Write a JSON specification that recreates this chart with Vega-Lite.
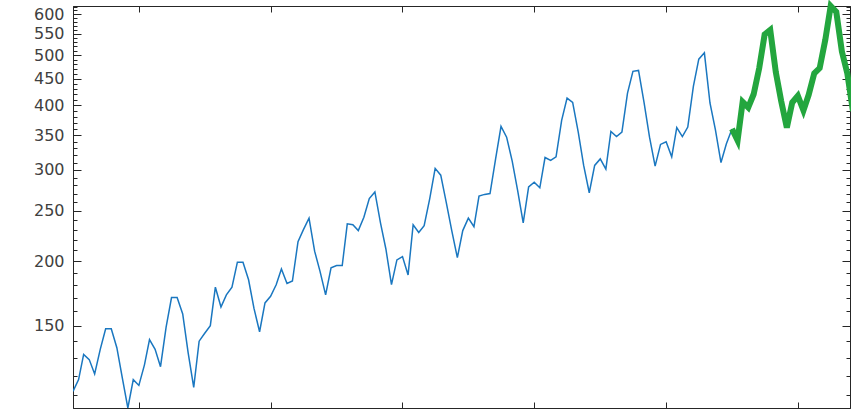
{
  "$schema": "https://vega.github.io/schema/vega-lite/v6.json",
  "width": 777,
  "height": 402,
  "autosize": {"type": "none"},
  "padding": {"left": 73, "top": 6, "right": 1, "bottom": 3},
  "background": "white",
  "config": {
    "view": {"stroke": "#262626", "strokeWidth": 1},
    "axis": {"domainColor": "#262626", "tickColor": "#262626", "grid": false, "labelFont": "DejaVu Sans", "labelFontSize": 16, "labelColor": "#404040", "title": null}
  },
  "data": {"values": [
    {"date":"1949-01-01","v":112,"s":"train"},{"date":"1949-02-01","v":118,"s":"train"},{"date":"1949-03-01","v":132,"s":"train"},{"date":"1949-04-01","v":129,"s":"train"},{"date":"1949-05-01","v":121,"s":"train"},{"date":"1949-06-01","v":135,"s":"train"},{"date":"1949-07-01","v":148,"s":"train"},{"date":"1949-08-01","v":148,"s":"train"},{"date":"1949-09-01","v":136,"s":"train"},{"date":"1949-10-01","v":119,"s":"train"},{"date":"1949-11-01","v":104,"s":"train"},{"date":"1949-12-01","v":118,"s":"train"},
    {"date":"1950-01-01","v":115,"s":"train"},{"date":"1950-02-01","v":126,"s":"train"},{"date":"1950-03-01","v":141,"s":"train"},{"date":"1950-04-01","v":135,"s":"train"},{"date":"1950-05-01","v":125,"s":"train"},{"date":"1950-06-01","v":149,"s":"train"},{"date":"1950-07-01","v":170,"s":"train"},{"date":"1950-08-01","v":170,"s":"train"},{"date":"1950-09-01","v":158,"s":"train"},{"date":"1950-10-01","v":133,"s":"train"},{"date":"1950-11-01","v":114,"s":"train"},{"date":"1950-12-01","v":140,"s":"train"},
    {"date":"1951-01-01","v":145,"s":"train"},{"date":"1951-02-01","v":150,"s":"train"},{"date":"1951-03-01","v":178,"s":"train"},{"date":"1951-04-01","v":163,"s":"train"},{"date":"1951-05-01","v":172,"s":"train"},{"date":"1951-06-01","v":178,"s":"train"},{"date":"1951-07-01","v":199,"s":"train"},{"date":"1951-08-01","v":199,"s":"train"},{"date":"1951-09-01","v":184,"s":"train"},{"date":"1951-10-01","v":162,"s":"train"},{"date":"1951-11-01","v":146,"s":"train"},{"date":"1951-12-01","v":166,"s":"train"},
    {"date":"1952-01-01","v":171,"s":"train"},{"date":"1952-02-01","v":180,"s":"train"},{"date":"1952-03-01","v":193,"s":"train"},{"date":"1952-04-01","v":181,"s":"train"},{"date":"1952-05-01","v":183,"s":"train"},{"date":"1952-06-01","v":218,"s":"train"},{"date":"1952-07-01","v":230,"s":"train"},{"date":"1952-08-01","v":242,"s":"train"},{"date":"1952-09-01","v":209,"s":"train"},{"date":"1952-10-01","v":191,"s":"train"},{"date":"1952-11-01","v":172,"s":"train"},{"date":"1952-12-01","v":194,"s":"train"},
    {"date":"1953-01-01","v":196,"s":"train"},{"date":"1953-02-01","v":196,"s":"train"},{"date":"1953-03-01","v":236,"s":"train"},{"date":"1953-04-01","v":235,"s":"train"},{"date":"1953-05-01","v":229,"s":"train"},{"date":"1953-06-01","v":243,"s":"train"},{"date":"1953-07-01","v":264,"s":"train"},{"date":"1953-08-01","v":272,"s":"train"},{"date":"1953-09-01","v":237,"s":"train"},{"date":"1953-10-01","v":211,"s":"train"},{"date":"1953-11-01","v":180,"s":"train"},{"date":"1953-12-01","v":201,"s":"train"},
    {"date":"1954-01-01","v":204,"s":"train"},{"date":"1954-02-01","v":188,"s":"train"},{"date":"1954-03-01","v":235,"s":"train"},{"date":"1954-04-01","v":227,"s":"train"},{"date":"1954-05-01","v":234,"s":"train"},{"date":"1954-06-01","v":264,"s":"train"},{"date":"1954-07-01","v":302,"s":"train"},{"date":"1954-08-01","v":293,"s":"train"},{"date":"1954-09-01","v":259,"s":"train"},{"date":"1954-10-01","v":229,"s":"train"},{"date":"1954-11-01","v":203,"s":"train"},{"date":"1954-12-01","v":229,"s":"train"},
    {"date":"1955-01-01","v":242,"s":"train"},{"date":"1955-02-01","v":233,"s":"train"},{"date":"1955-03-01","v":267,"s":"train"},{"date":"1955-04-01","v":269,"s":"train"},{"date":"1955-05-01","v":270,"s":"train"},{"date":"1955-06-01","v":315,"s":"train"},{"date":"1955-07-01","v":364,"s":"train"},{"date":"1955-08-01","v":347,"s":"train"},{"date":"1955-09-01","v":312,"s":"train"},{"date":"1955-10-01","v":274,"s":"train"},{"date":"1955-11-01","v":237,"s":"train"},{"date":"1955-12-01","v":278,"s":"train"},
    {"date":"1956-01-01","v":284,"s":"train"},{"date":"1956-02-01","v":277,"s":"train"},{"date":"1956-03-01","v":317,"s":"train"},{"date":"1956-04-01","v":313,"s":"train"},{"date":"1956-05-01","v":318,"s":"train"},{"date":"1956-06-01","v":374,"s":"train"},{"date":"1956-07-01","v":413,"s":"train"},{"date":"1956-08-01","v":405,"s":"train"},{"date":"1956-09-01","v":355,"s":"train"},{"date":"1956-10-01","v":306,"s":"train"},{"date":"1956-11-01","v":271,"s":"train"},{"date":"1956-12-01","v":306,"s":"train"},
    {"date":"1957-01-01","v":315,"s":"train"},{"date":"1957-02-01","v":301,"s":"train"},{"date":"1957-03-01","v":356,"s":"train"},{"date":"1957-04-01","v":348,"s":"train"},{"date":"1957-05-01","v":355,"s":"train"},{"date":"1957-06-01","v":422,"s":"train"},{"date":"1957-07-01","v":465,"s":"train"},{"date":"1957-08-01","v":467,"s":"train"},{"date":"1957-09-01","v":404,"s":"train"},{"date":"1957-10-01","v":347,"s":"train"},{"date":"1957-11-01","v":305,"s":"train"},{"date":"1957-12-01","v":336,"s":"train"},
    {"date":"1958-01-01","v":340,"s":"train"},{"date":"1958-02-01","v":318,"s":"train"},{"date":"1958-03-01","v":362,"s":"train"},{"date":"1958-04-01","v":348,"s":"train"},{"date":"1958-05-01","v":363,"s":"train"},{"date":"1958-06-01","v":435,"s":"train"},{"date":"1958-07-01","v":491,"s":"train"},{"date":"1958-08-01","v":505,"s":"train"},{"date":"1958-09-01","v":404,"s":"train"},{"date":"1958-10-01","v":359,"s":"train"},{"date":"1958-11-01","v":310,"s":"train"},{"date":"1958-12-01","v":337,"s":"train"},
    {"date":"1959-01-01","v":360,"s":"train"},
    {"date":"1959-01-01","v":360,"s":"test"},{"date":"1959-02-01","v":342,"s":"test"},{"date":"1959-03-01","v":406,"s":"test"},{"date":"1959-04-01","v":396,"s":"test"},{"date":"1959-05-01","v":420,"s":"test"},{"date":"1959-06-01","v":472,"s":"test"},{"date":"1959-07-01","v":548,"s":"test"},{"date":"1959-08-01","v":559,"s":"test"},{"date":"1959-09-01","v":463,"s":"test"},{"date":"1959-10-01","v":407,"s":"test"},{"date":"1959-11-01","v":362,"s":"test"},{"date":"1959-12-01","v":405,"s":"test"},
    {"date":"1960-01-01","v":417,"s":"test"},{"date":"1960-02-01","v":391,"s":"test"},{"date":"1960-03-01","v":419,"s":"test"},{"date":"1960-04-01","v":461,"s":"test"},{"date":"1960-05-01","v":472,"s":"test"},{"date":"1960-06-01","v":535,"s":"test"},{"date":"1960-07-01","v":622,"s":"test"},{"date":"1960-08-01","v":606,"s":"test"},{"date":"1960-09-01","v":508,"s":"test"},{"date":"1960-10-01","v":461,"s":"test"},{"date":"1960-11-01","v":390,"s":"test"},{"date":"1960-12-01","v":432,"s":"test"}
  ]},
  "layer": [
    {
      "transform": [{"filter": "datum.s === 'train'"}],
      "mark": {"type": "line", "color": "#1a77c0", "strokeWidth": 1.5, "clip": true},
      "encoding": {
        "x": {"field": "date", "type": "temporal",
          "scale": {"type": "utc", "domain": [{"year": 1949, "month": 1, "date": 1, "utc": true}, {"year": 1960, "month": 10, "date": 16, "utc": true}], "nice": false},
          "axis": {"orient": "bottom", "values": [{"year":1950,"month":1,"date":1,"utc":true},{"year":1952,"month":1,"date":1,"utc":true},{"year":1954,"month":1,"date":1,"utc":true},{"year":1956,"month":1,"date":1,"utc":true},{"year":1958,"month":1,"date":1,"utc":true},{"year":1960,"month":1,"date":1,"utc":true}], "labels": false, "tickSize": -6}},
        "y": {"field": "v", "type": "quantitative",
          "scale": {"type": "log", "domain": [104, 622], "nice": false, "zero": false},
          "axis": {"orient": "left",
            "values": [110,120,130,140,150,160,170,180,190,200,210,220,230,240,250,260,270,280,290,300,310,320,330,340,350,360,370,380,390,400,410,420,430,440,450,460,470,480,490,500,510,520,530,540,550,560,570,580,590,600,610,620],
            "labelExpr": "datum.value % 50 === 0 ? format(datum.value, 'd') : ''",
            "labelOverlap": false, "labelPadding": 17,
            "tickSize": {"condition": {"test": "datum.value % 50 === 0", "value": -8}, "value": -4}}}
      }
    },
    {
      "transform": [{"filter": "datum.s === 'test'"}],
      "mark": {"type": "line", "color": "#23A63E", "strokeWidth": 6, "strokeJoin": "miter", "clip": false},
      "encoding": {
        "x": {"field": "date", "type": "temporal",
          "axis": {"orient": "top", "values": [{"year":1950,"month":1,"date":1,"utc":true},{"year":1952,"month":1,"date":1,"utc":true},{"year":1954,"month":1,"date":1,"utc":true},{"year":1956,"month":1,"date":1,"utc":true},{"year":1958,"month":1,"date":1,"utc":true},{"year":1960,"month":1,"date":1,"utc":true}], "labels": false, "tickSize": -6}},
        "y": {"field": "v", "type": "quantitative",
          "axis": {"orient": "right",
            "values": [110,120,130,140,150,160,170,180,190,200,210,220,230,240,250,260,270,280,290,300,310,320,330,340,350,360,370,380,390,400,410,420,430,440,450,460,470,480,490,500,510,520,530,540,550,560,570,580,590,600,610,620],
            "labels": false,
            "tickSize": {"condition": {"test": "datum.value % 50 === 0", "value": -8}, "value": -4}}}
      }
    }
  ],
  "resolve": {"axis": {"x": "independent", "y": "independent"}}
}
